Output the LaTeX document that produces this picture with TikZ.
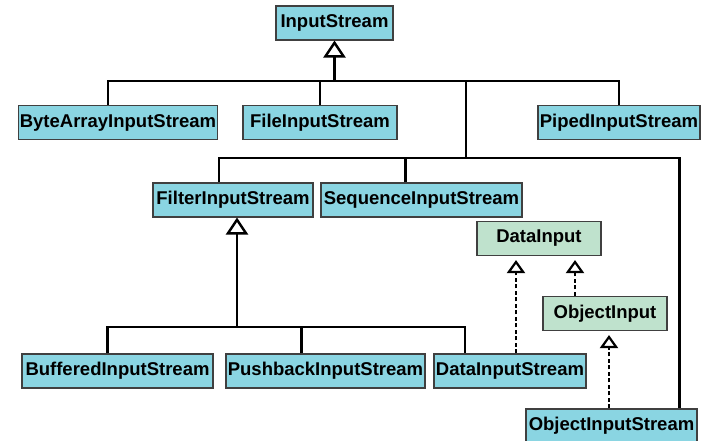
\documentclass[tikz,border=0pt]{standalone}
\usepackage{fontspec}
\setmainfont{Liberation Sans}
\usetikzlibrary{arrows.meta}

\definecolor{streamblue}{RGB}{138,213,226}
\definecolor{ifacegreen}{RGB}{191,226,205}

\tikzset{
  cls/.style={draw=black!75, line width=1.1pt, fill=streamblue, minimum height=34, inner sep=1pt,
    font=\fontsize{18.5}{20}\selectfont\bfseries},
  ifc/.style={cls, fill=ifacegreen},
  line/.style={line width=2.8pt},
  inherit/.style={line, -{Triangle[open, length=17pt, width=22pt, line width=2.4pt]}},
  realize/.style={line width=2.6pt, dash pattern=on 4pt off 2.5pt, shorten >=4pt,
    -{Triangle[open, length=13pt, width=18pt, line width=2.2pt]}},
}

\begin{document}
\begin{tikzpicture}[x=1pt, y=-1pt]
    \useasboundingbox (0,0) rectangle (704,440);

    % streams
    \node[cls, minimum width=117] (is)  at (334.5,23)  {InputStream};
    \node[cls, minimum width=199] (bai) at (118,122.5) {ByteArrayInputStream};
    \node[cls, minimum width=154] (fi)  at (320,122.5) {FileInputStream};
    \node[cls, minimum width=162] (pi)  at (619,122.5) {PipedInputStream};
    \node[cls, minimum width=160] (fli) at (233,200)   {FilterInputStream};
    \node[cls, minimum width=201] (si)  at (421.5,200) {SequenceInputStream};
    \node[cls, minimum width=191] (bi)  at (117.5,371) {BufferedInputStream};
    \node[cls, minimum width=199] (pbi) at (325.5,371) {PushbackInputStream};
    \node[cls, minimum width=152] (dis) at (510,371)   {DataInputStream};
    \node[cls, minimum width=171] (ois) at (611.5,426) {ObjectInputStream};

    % interfaces
    \node[ifc, minimum width=124] (di) at (539,238.5) {DataInput};
    \node[ifc, minimum width=124] (oi) at (605,313.5) {ObjectInput};

    % bus points
    \coordinate (j1) at (334.5,81);
    \coordinate (j2) at (466,81);
    \coordinate (j3) at (466,158);
    \coordinate (j4) at (237,327);

    % InputStream subclasses
    \draw[inherit] (j1) -- (is.south);
    \draw[line] ([xshift=-10pt]bai.north) |- (pi.north |- j1) -- (pi.north);
    \draw[line] (fi.north) -- (fi.north |- j1);
    \draw[line] (j2) -- (j3);
    \draw[line] ([xshift=-14pt]fli.north) |- ([xshift=68pt]ois.north |- j3) -- ([xshift=68pt]ois.north);
    \draw[line] ([xshift=-16pt]si.north) -- ([xshift=-16pt]si.north |- j3);

    % FilterInputStream subclasses
    \draw[inherit] (j4) -- ([xshift=4pt]fli.south);
    \draw[line] ([xshift=-10pt]bi.north) |- ([xshift=-45pt]dis.north |- j4) -- ([xshift=-45pt]dis.north);
    \draw[line] ([xshift=-24pt]pbi.north) -- ([xshift=-24pt]pbi.north |- j4);

    % interfaces implemented
    \draw[realize] ([xshift=6pt]dis.north) -- ([xshift=6pt]dis.north |- di.south);
    \draw[realize] ([xshift=-30pt]oi.north) -- ([xshift=-30pt]oi.north |- di.south);
    \draw[realize] ([xshift=4pt]oi.south |- ois.north) -- ([xshift=4pt]oi.south);
\end{tikzpicture}
\end{document}
